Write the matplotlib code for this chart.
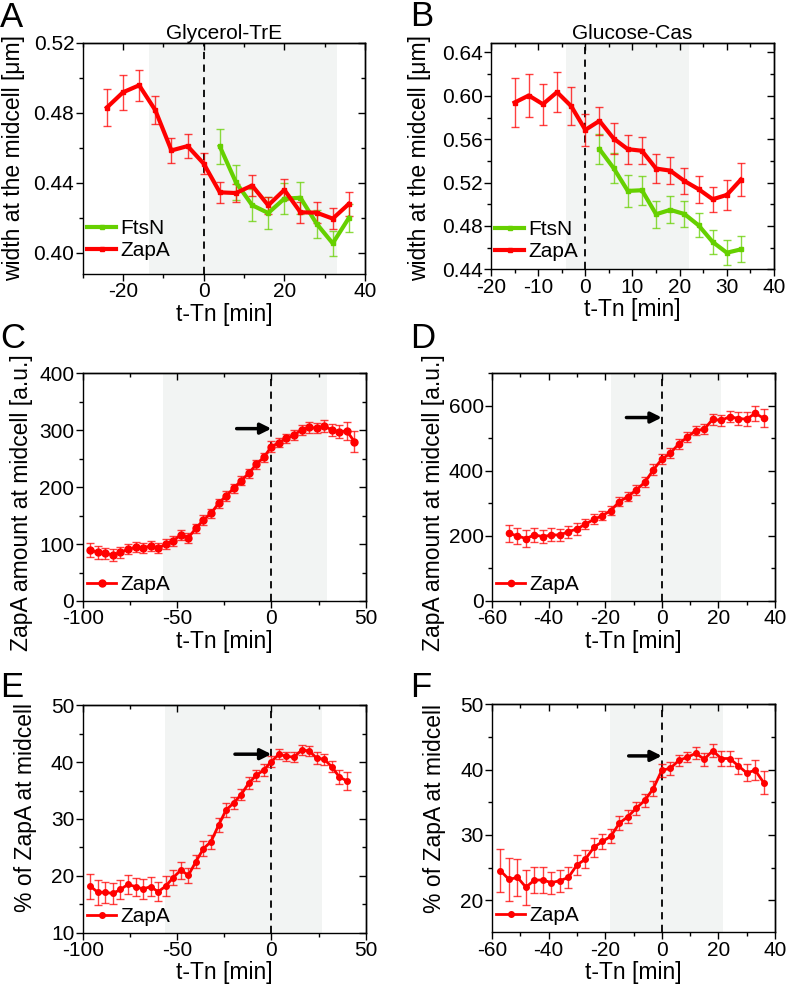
import numpy as np
import matplotlib.pyplot as plt
from matplotlib.ticker import MultipleLocator

plt.rcParams['font.family'] = ['Liberation Sans', 'DejaVu Sans']
plt.rcParams['axes.linewidth'] = 1.0
plt.rcParams['axes.unicode_minus'] = False

# ---- panel A: Glycerol-TrE, width at midcell
a_t_zapa = [-24, -20, -16, -12, -8, -4, 0, 4, 8, 12, 16, 20, 24, 28, 32, 36]
a_zapa = [0.483, 0.4917, 0.4957, 0.4815, 0.4585, 0.461, 0.451, 0.4346, 0.4342,
          0.4385, 0.4272, 0.436, 0.4232, 0.423, 0.4196, 0.428]
a_zapa_err = [0.0105, 0.010, 0.009, 0.008, 0.007, 0.007, 0.006, 0.006, 0.005,
              0.006, 0.005, 0.006, 0.006, 0.006, 0.006, 0.007]
a_t_ftsn = [4, 8, 12, 16, 20, 24, 28, 32, 36]
a_ftsn = [0.4608, 0.4403, 0.4273, 0.4228, 0.431, 0.4315, 0.4167, 0.4055, 0.420]
a_ftsn_err = [0.010, 0.010, 0.009, 0.009, 0.009, 0.009, 0.008, 0.007, 0.008]

# ---- panel B: Glucose-Cas, width at midcell
b_t_zapa = [-15, -12, -9, -6, -3, 0, 3, 6, 9, 12, 15, 18, 21, 24, 27, 30, 33]
b_zapa = [0.5938, 0.6003, 0.5923, 0.6034, 0.5905, 0.5686, 0.5769, 0.5606, 0.5508,
          0.5493, 0.5329, 0.531, 0.5215, 0.5139, 0.5046, 0.5086, 0.5228]
b_zapa_err = [0.0228, 0.020, 0.019, 0.0186, 0.0175, 0.015, 0.013, 0.0146, 0.0135,
              0.0125, 0.0135, 0.0125, 0.012, 0.0125, 0.0115, 0.014, 0.0154]
b_t_ftsn = [3, 6, 9, 12, 15, 18, 21, 24, 27, 30, 33]
b_ftsn = [0.5508, 0.5333, 0.5123, 0.5129, 0.4908, 0.4948, 0.491, 0.4806, 0.4652,
          0.4553, 0.4584]
b_ftsn_err = [0.014, 0.014, 0.0145, 0.0135, 0.0125, 0.0125, 0.012, 0.011, 0.011,
              0.0115, 0.012]

# ---- panel C: Glycerol-TrE, ZapA amount
c_t = [-96, -92, -88, -84, -80, -76, -72, -68, -64, -60, -56, -52, -48, -44, -40, -36,
       -32, -28, -24, -20, -16, -12, -8, -4, 0, 4, 8, 12, 16, 20, 24, 28, 32, 36, 40, 44]
c_zapa = [89.6, 85.5, 83.7, 80.8, 85.5, 90.8, 94.3, 93.7, 96.6, 92.5, 100.1, 106,
          116, 111.3, 127.7, 142.3, 154, 171.6, 184.5, 198, 211.4, 224.3, 240.1, 252.4,
          271.2, 278.2, 285.8, 291.7, 300.4, 305.1, 303.4, 307.5, 300.4, 297.5, 298.7, 280]
c_err = [12, 11, 10, 10, 10, 9, 9, 9, 9, 9, 9, 9, 9, 9, 8, 8, 8, 8, 8, 8, 8, 8, 8, 8,
         9, 8, 8, 9, 9, 10, 9, 10, 10, 12, 16, 18]

# ---- panel D: Glucose-Cas, ZapA amount
d_t = [-54, -51, -48, -45, -42, -39, -36, -33, -30, -27, -24, -21, -18, -15, -12, -9,
       -6, -3, 0, 3, 6, 9, 12, 15, 18, 21, 24, 27, 30, 33, 36]
d_zapa = [208, 200, 192, 203, 198, 203, 203, 213, 221.5, 236, 251, 262.6, 278, 305.6,
          321, 341.5, 365, 403, 436, 454, 483, 503.6, 524, 528, 559, 555, 567, 561, 559,
          577, 562]
d_err = [27, 25, 25, 22, 20, 20, 18, 18, 18, 16, 15, 15, 15, 15, 15, 15, 15, 17, 15,
         15, 15, 15, 15, 15, 17, 17, 18, 20, 22, 23, 28]

# ---- panel E: Glycerol-TrE, % of ZapA
e_t = [-96, -92, -88, -84, -80, -76, -72, -68, -64, -60, -56, -52, -48, -44, -40, -36,
       -32, -28, -24, -20, -16, -12, -8, -4, 0, 4, 8, 12, 16, 20, 24, 28, 32, 36, 40]
e_zapa = [18.2, 17.1, 17.1, 16.9, 17.6, 18.5, 18.1, 17.7, 18.1, 17.2, 18.2, 19.7,
          21.0, 20.1, 22.5, 24.8, 26.0, 28.9, 31.6, 32.8, 34.3, 36.3, 37.7, 38.6, 40.1,
          41.4, 41.0, 40.9, 42.1, 42.0, 40.7, 40.5, 39.2, 37.4, 36.7]
e_err = [2.2, 2.2, 1.8, 1.8, 1.7, 1.7, 1.6, 1.7, 1.7, 1.7, 1.8, 1.3, 1.5, 1.3, 1.2, 1.3,
         1.2, 1.2, 1.2, 1.1, 1.0, 1.0, 1.0, 1.0, 1.0, 0.9, 0.8, 0.9, 0.9, 0.9, 1.0, 1.0,
         1.0, 1.2, 1.6]

# ---- panel F: Glucose-Cas, % of ZapA
f_t = [-57, -54, -51, -48, -45, -42, -39, -36, -33, -30, -27, -24, -21, -18, -15, -12,
       -9, -6, -3, 0, 3, 6, 9, 12, 15, 18, 21, 24, 27, 30, 33, 36]
f_zapa = [24.5, 23.2, 23.5, 22.0, 23.1, 23.1, 22.7, 23.0, 23.5, 25.4, 26.3, 28.1, 29.0,
          29.8, 31.8, 32.8, 34.1, 35.3, 37.1, 39.9, 40.2, 41.4, 41.9, 42.5, 41.6, 42.9,
          41.7, 41.7, 40.6, 39.5, 39.9, 38.0]
f_err = [3.3, 3.3, 2.8, 2.7, 2.0, 2.0, 1.7, 1.7, 1.6, 1.6, 1.4, 1.4, 1.2, 1.1, 1.1, 1.0,
         1.0, 1.0, 1.2, 1.0, 1.0, 0.9, 0.8, 0.9, 1.0, 1.0, 1.1, 1.1, 1.2, 1.3, 1.5, 1.8]

RED = '#ff0000'
GREEN = '#66d000'
SHADE = '#f2f4f3'
FS = 15        # ticks, title, legend
LFS = 16.5     # axis labels

W, H = 786, 991
fig = plt.figure(figsize=(W / 100, H / 100), dpi=100)


def make_ax(left, right, top, bottom):
    return fig.add_axes([left / W, 1 - bottom / H, (right - left) / W, (bottom - top) / H])


def style(ax, xlim, ylim, xmaj, xmin, ymaj, ymin, yfmt=None):
    ax.set_xlim(*xlim)
    ax.set_ylim(*ylim)
    ax.xaxis.set_major_locator(MultipleLocator(xmaj))
    ax.xaxis.set_minor_locator(MultipleLocator(xmin))
    ax.yaxis.set_major_locator(MultipleLocator(ymaj))
    ax.yaxis.set_minor_locator(MultipleLocator(ymin))
    if yfmt:
        ax.yaxis.set_major_formatter(yfmt)
    ax.tick_params(which='both', direction='out', labelsize=FS, width=1, pad=1)
    ax.tick_params(which='major', length=5)
    ax.tick_params(which='minor', length=3)
    # inward ticks on top / right, as in Origin
    for side, sec in (('top', ax.secondary_xaxis('top')), ('right', ax.secondary_yaxis('right'))):
        loc_ax = sec.xaxis if side == 'top' else sec.yaxis
        loc_ax.set_major_locator(MultipleLocator(xmaj if side == 'top' else ymaj))
        loc_ax.set_minor_locator(MultipleLocator(xmin if side == 'top' else ymin))
        sec.tick_params(which='both', direction='in', width=1,
                        labeltop=False, labelright=False)
        sec.tick_params(which='major', length=5)
        sec.tick_params(which='minor', length=3)
    ax.axvline(0, color='black', lw=1.3, ls=(0, (4, 3)), zorder=3)
    ax.set_xlabel('t-Tn [min]', fontsize=LFS, labelpad=1)


def series(ax, t, y, err, color, marker, ms, lw, label):
    ax.errorbar(t, y, yerr=err, fmt='none', ecolor=color, alpha=0.75, elinewidth=1,
                capsize=3, capthick=1, zorder=4)
    ax.plot(t, y, color=color, lw=lw, marker=marker, ms=ms, label=label, zorder=5)


def legend(ax, y=0.03):
    ax.legend(loc='lower left', bbox_to_anchor=(0.015, y), frameon=False,
              fontsize=FS, handlelength=1.4, handletextpad=0.2,
              borderpad=0, borderaxespad=0, labelspacing=0.15)


def arrow(ax, x0, y0):
    ax.annotate('', xy=(0, y0), xytext=(x0, y0),
                arrowprops=dict(arrowstyle='-|>', color='black', lw=2.5,
                                mutation_scale=16, shrinkA=0, shrinkB=0), zorder=6)


fmt2 = lambda v, p: f'{v:.2f}'

# A
ax = make_ax(82.7, 365, 42.7, 274)
ax.axvspan(-13.6, 33, color=SHADE, zorder=0, lw=0)
series(ax, a_t_ftsn, a_ftsn, a_ftsn_err, GREEN, 's', 3.5, 3, 'FtsN')
series(ax, a_t_zapa, a_zapa, a_zapa_err, RED, 's', 3.5, 3, 'ZapA')
style(ax, (-30, 40), (0.388, 0.52), 20, 10, 0.04, 0.02, plt.FuncFormatter(fmt2))
ax.set_title('Glycerol-TrE', fontsize=FS, pad=3)
ax.set_ylabel('width at the midcell [\u03bcm]', fontsize=LFS)
ax.yaxis.set_label_coords(-0.205, 0.5)
legend(ax, 0.06)

# B
ax = make_ax(491, 774, 42.7, 269.3)
ax.axvspan(-4, 22, color=SHADE, zorder=0, lw=0)
series(ax, b_t_ftsn, b_ftsn, b_ftsn_err, GREEN, 's', 3.5, 3, 'FtsN')
series(ax, b_t_zapa, b_zapa, b_zapa_err, RED, 's', 3.5, 3, 'ZapA')
style(ax, (-20, 40), (0.44, 0.649), 10, 5, 0.04, 0.02, plt.FuncFormatter(fmt2))
ax.set_title('Glucose-Cas', fontsize=FS, pad=3)
ax.set_ylabel('width at the midcell [\u03bcm]', fontsize=LFS)
ax.yaxis.set_label_coords(-0.212, 0.49)
legend(ax, 0.035)

# C
ax = make_ax(82.7, 365.7, 373.3, 601)
ax.axvspan(-57.2, 29.7, color=SHADE, zorder=0, lw=0)
series(ax, c_t, c_zapa, c_err, RED, 'o', 5, 2, 'ZapA')
style(ax, (-100, 50), (0, 400), 50, 25, 100, 50)
arrow(ax, -18.4, 302.8)
ax.set_ylabel('ZapA amount at midcell [a.u.]', fontsize=LFS)
ax.yaxis.set_label_coords(-0.176, 0.43)
legend(ax)

# D
ax = make_ax(492, 775, 373.3, 601)
ax.axvspan(-18, 20.9, color=SHADE, zorder=0, lw=0)
series(ax, d_t, d_zapa, d_err, RED, 'o', 4.5, 2, 'ZapA')
style(ax, (-60, 40), (0, 700), 20, 10, 200, 100)
arrow(ax, -12.5, 564)
ax.set_ylabel('ZapA amount at midcell [a.u.]', fontsize=LFS)
ax.yaxis.set_label_coords(-0.166, 0.43)
legend(ax)

# E
ax = make_ax(82.7, 365.7, 705.3, 932.7)
ax.axvspan(-56.2, 27, color=SHADE, zorder=0, lw=0)
series(ax, e_t, e_zapa, e_err, RED, 'o', 4, 2, 'ZapA')
style(ax, (-100, 50), (10, 50), 50, 25, 10, 5)
arrow(ax, -19.3, 41.4)
ax.set_ylabel('% of ZapA at midcell', fontsize=LFS)
ax.yaxis.set_label_coords(-0.161, 0.55)
legend(ax)

# F
ax = make_ax(492, 775, 704.3, 932.3)
ax.axvspan(-18.4, 21.7, color=SHADE, zorder=0, lw=0)
series(ax, f_t, f_zapa, f_err, RED, 'o', 4, 2, 'ZapA')
style(ax, (-60, 40), (15.1, 50), 20, 10, 10, 5)
arrow(ax, -11.7, 42.1)
ax.set_ylabel('% of ZapA at midcell', fontsize=LFS)
ax.yaxis.set_label_coords(-0.163, 0.545)
legend(ax)

# panel letters
for letter, x, y in [('A', 0, 27), ('B', 410, 26), ('C', 0, 348),
                     ('D', 410, 348), ('E', 0, 697), ('F', 410, 697)]:
    fig.text(x / W, 1 - y / H, letter, fontsize=25, va='baseline', ha='left')

fig.savefig('out.png', dpi=100)
